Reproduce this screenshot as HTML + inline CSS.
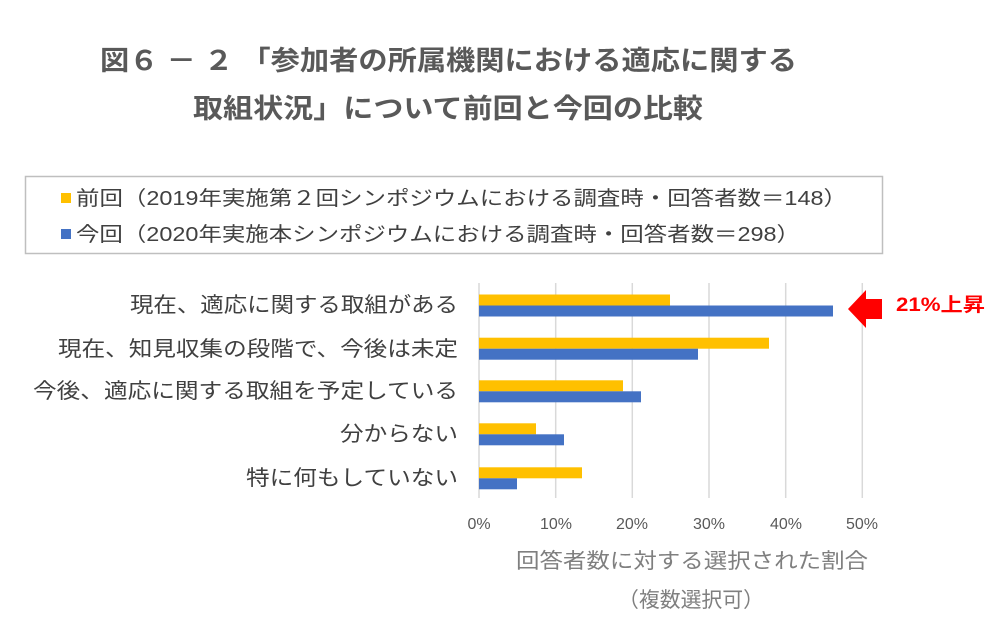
<!DOCTYPE html>
<html><head><meta charset="utf-8"><style>
html,body{margin:0;padding:0;background:#fff;}
svg{display:block;font-family:"Liberation Sans","Noto Sans CJK JP",sans-serif;}
</style></head><body>
<svg width="1000" height="636" viewBox="0 0 1000 636">
<rect width="1000" height="636" fill="#fff"/>
<text x="100" y="70" font-size="27" font-weight="bold" fill="#595959" textLength="697" lengthAdjust="spacingAndGlyphs">図６ － ２ 「参加者の所属機関における適応に関する</text>
<text x="193" y="118" font-size="27" font-weight="bold" fill="#595959" textLength="510" lengthAdjust="spacingAndGlyphs">取組状況」について前回と今回の比較</text>
<rect x="25.5" y="176.5" width="857" height="77" fill="#fff" stroke="#bfbfbf" stroke-width="1.5"/>
<rect x="61" y="193" width="10" height="10" fill="#ffc000"/>
<text x="76" y="205" font-size="20" fill="#404040" textLength="771" lengthAdjust="spacingAndGlyphs">前回（2019年実施第２回シンポジウムにおける調査時・回答者数＝148）</text>
<rect x="61" y="229" width="10" height="10" fill="#4472c4"/>
<text x="76" y="241" font-size="20" fill="#404040" textLength="724" lengthAdjust="spacingAndGlyphs">今回（2020年実施本シンポジウムにおける調査時・回答者数＝298）</text>
<g stroke="#d9d9d9" stroke-width="1.5">
<line x1="479" y1="283" x2="479" y2="498"/><line x1="555.7" y1="283" x2="555.7" y2="498"/>
<line x1="632.3" y1="283" x2="632.3" y2="498"/><line x1="709" y1="283" x2="709" y2="498"/>
<line x1="785.7" y1="283" x2="785.7" y2="498"/><line x1="862.3" y1="283" x2="862.3" y2="498"/>
</g>
<g fill="#ffc000">
<rect x="479" y="294.5" width="191" height="11"/>
<rect x="479" y="337.7" width="290" height="11"/>
<rect x="479" y="380.3" width="144" height="11"/>
<rect x="479" y="423.3" width="57" height="11"/>
<rect x="479" y="467.3" width="103" height="11"/>
</g>
<g fill="#4472c4">
<rect x="479" y="305.5" width="354" height="11"/>
<rect x="479" y="348.7" width="219" height="11"/>
<rect x="479" y="391.3" width="162" height="11"/>
<rect x="479" y="434.3" width="85" height="11"/>
<rect x="479" y="478.3" width="38" height="11"/>
</g>
<g font-size="21" fill="#404040" lengthAdjust="spacingAndGlyphs">
<text x="130" y="312" textLength="328" lengthAdjust="spacingAndGlyphs">現在、適応に関する取組がある</text>
<text x="58" y="356" textLength="400" lengthAdjust="spacingAndGlyphs">現在、知見収集の段階で、今後は未定</text>
<text x="33" y="398" textLength="425" lengthAdjust="spacingAndGlyphs">今後、適応に関する取組を予定している</text>
<text x="340" y="441" textLength="118" lengthAdjust="spacingAndGlyphs">分からない</text>
<text x="246" y="485" textLength="212" lengthAdjust="spacingAndGlyphs">特に何もしていない</text>
</g>
<g font-size="16" fill="#595959" text-anchor="middle">
<text x="479" y="529">0%</text><text x="556" y="529">10%</text><text x="632" y="529">20%</text>
<text x="709" y="529">30%</text><text x="786" y="529">40%</text><text x="862" y="529">50%</text>
</g>
<text x="516" y="568" font-size="21" fill="#7f7f7f" textLength="352" lengthAdjust="spacingAndGlyphs">回答者数に対する選択された割合</text>
<text x="618" y="607" font-size="21" fill="#7f7f7f" textLength="146" lengthAdjust="spacingAndGlyphs">（複数選択可）</text>
<polygon points="848,309 866,290 866,299 882,299 882,319 866,319 866,328" fill="#ff0000"/>
<text x="896" y="311" font-size="19" font-weight="bold" fill="#ff0000" textLength="89" lengthAdjust="spacingAndGlyphs">21%上昇</text>
</svg>
</body></html>
